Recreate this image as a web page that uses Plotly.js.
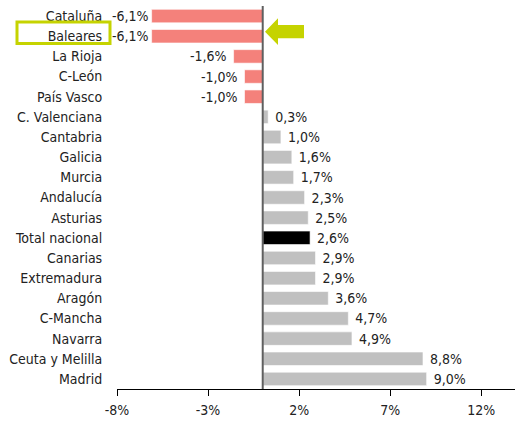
<!DOCTYPE html>
<html><head><meta charset="utf-8">
<script src="https://cdn.plot.ly/plotly-3.0.1.min.js"></script>
<style>html,body{margin:0;padding:0;background:#fff;}</style>
</head><body>
<div id="chart" style="width:515px;height:422px;"></div>
<script>
var categories = ["Cataluña","Baleares","La Rioja","C-León","País Vasco","C. Valenciana","Cantabria","Galicia","Murcia","Andalucía","Asturias","Total nacional","Canarias","Extremadura","Aragón","C-Mancha","Navarra","Ceuta y Melilla","Madrid"];
var values = [-6.1,-6.1,-1.6,-1.0,-1.0,0.3,1.0,1.6,1.7,2.3,2.5,2.6,2.9,2.9,3.6,4.7,4.9,8.8,9.0];
var tickVals = [-8,-3,2,7,12];
var tickText = ["-8%","-3%","2%","7%","12%"];

var FONT = '"DejaVu Sans Condensed", "DejaVu Sans", sans-serif';
var colors = values.map(function(v,i){
  if (categories[i] === "Total nacional") return "#000000";
  return v < 0 ? "#F4817B" : "#C0C0C0";
});
var NB = '\u00a0';
var labels = values.map(function(v){
  var s = v.toFixed(1).replace('.',',') + '%';
  if (v >= 0) return NB + s;
  return v > -5 ? s + NB : s;
});

var W = 515, H = 422, ML = 117, MR = 0, MT = 6, MB = 33;
function px(x){ return (x - ML) / (W - ML - MR); }
function py(y){ return (H - MB - y) / (H - MT - MB); }

var arrowPts = [[265,31.7],[278,18.3],[278,25],[304,25],[304,38.3],[278,38.3],[278,45]];
var arrowPath = 'M' + arrowPts.map(function(p){ return px(p[0]) + ',' + py(p[1]); }).join(' L') + ' Z';

var data = [{
  type: 'bar',
  orientation: 'h',
  y: categories,
  x: values,
  marker: {color: colors, line: {color: 'rgba(255,255,255,0.6)', width: 1}},
  text: labels,
  textposition: 'outside',
  constraintext: 'none',
  cliponaxis: false,
  textfont: {family: FONT, size: 14, color: '#222'},
  hoverinfo: 'none'
}];

var layout = {
  width: W, height: H,
  margin: {l: ML, r: MR, t: MT, b: MB},
  paper_bgcolor: '#fff', plot_bgcolor: '#fff',
  font: {family: FONT, size: 14, color: '#222'},
  bargap: 0.33,
  showlegend: false,
  xaxis: {
    range: [-8, 13.85],
    tickvals: tickVals, ticktext: tickText,
    showgrid: false,
    zeroline: false,
    showline: true, linecolor: '#000', linewidth: 1,
    ticks: 'outside', ticklen: 6, tickcolor: '#000', tickwidth: 1,
    ticklabelstandoff: 2,
    tickfont: {family: FONT, size: 14, color: '#222'},
    fixedrange: true
  },
  yaxis: {
    type: 'category',
    autorange: 'reversed',
    showgrid: false, showline: false, zeroline: false,
    ticks: 'outside', ticklen: 11, tickcolor: 'rgba(0,0,0,0)',
    tickfont: {family: FONT, size: 14, color: '#222'},
    fixedrange: true
  },
  shapes: [
    {type: 'line', xref: 'x', yref: 'paper', x0: 0, x1: 0, y0: 0, y1: 1,
     line: {color: '#5f5f5f', width: 2}, layer: 'above'},
    {type: 'rect', xref: 'paper', yref: 'paper',
     x0: px(17), x1: px(110), y0: py(22), y1: py(43.5),
     line: {color: '#C5D300', width: 3}, fillcolor: 'rgba(0,0,0,0)'},
    {type: 'path', xref: 'paper', yref: 'paper', path: arrowPath,
     fillcolor: '#C5D300', line: {color: '#C5D300', width: 0}}
  ]
};

Plotly.newPlot('chart', data, layout, {displayModeBar: false, staticPlot: true});
</script>
</body></html>
